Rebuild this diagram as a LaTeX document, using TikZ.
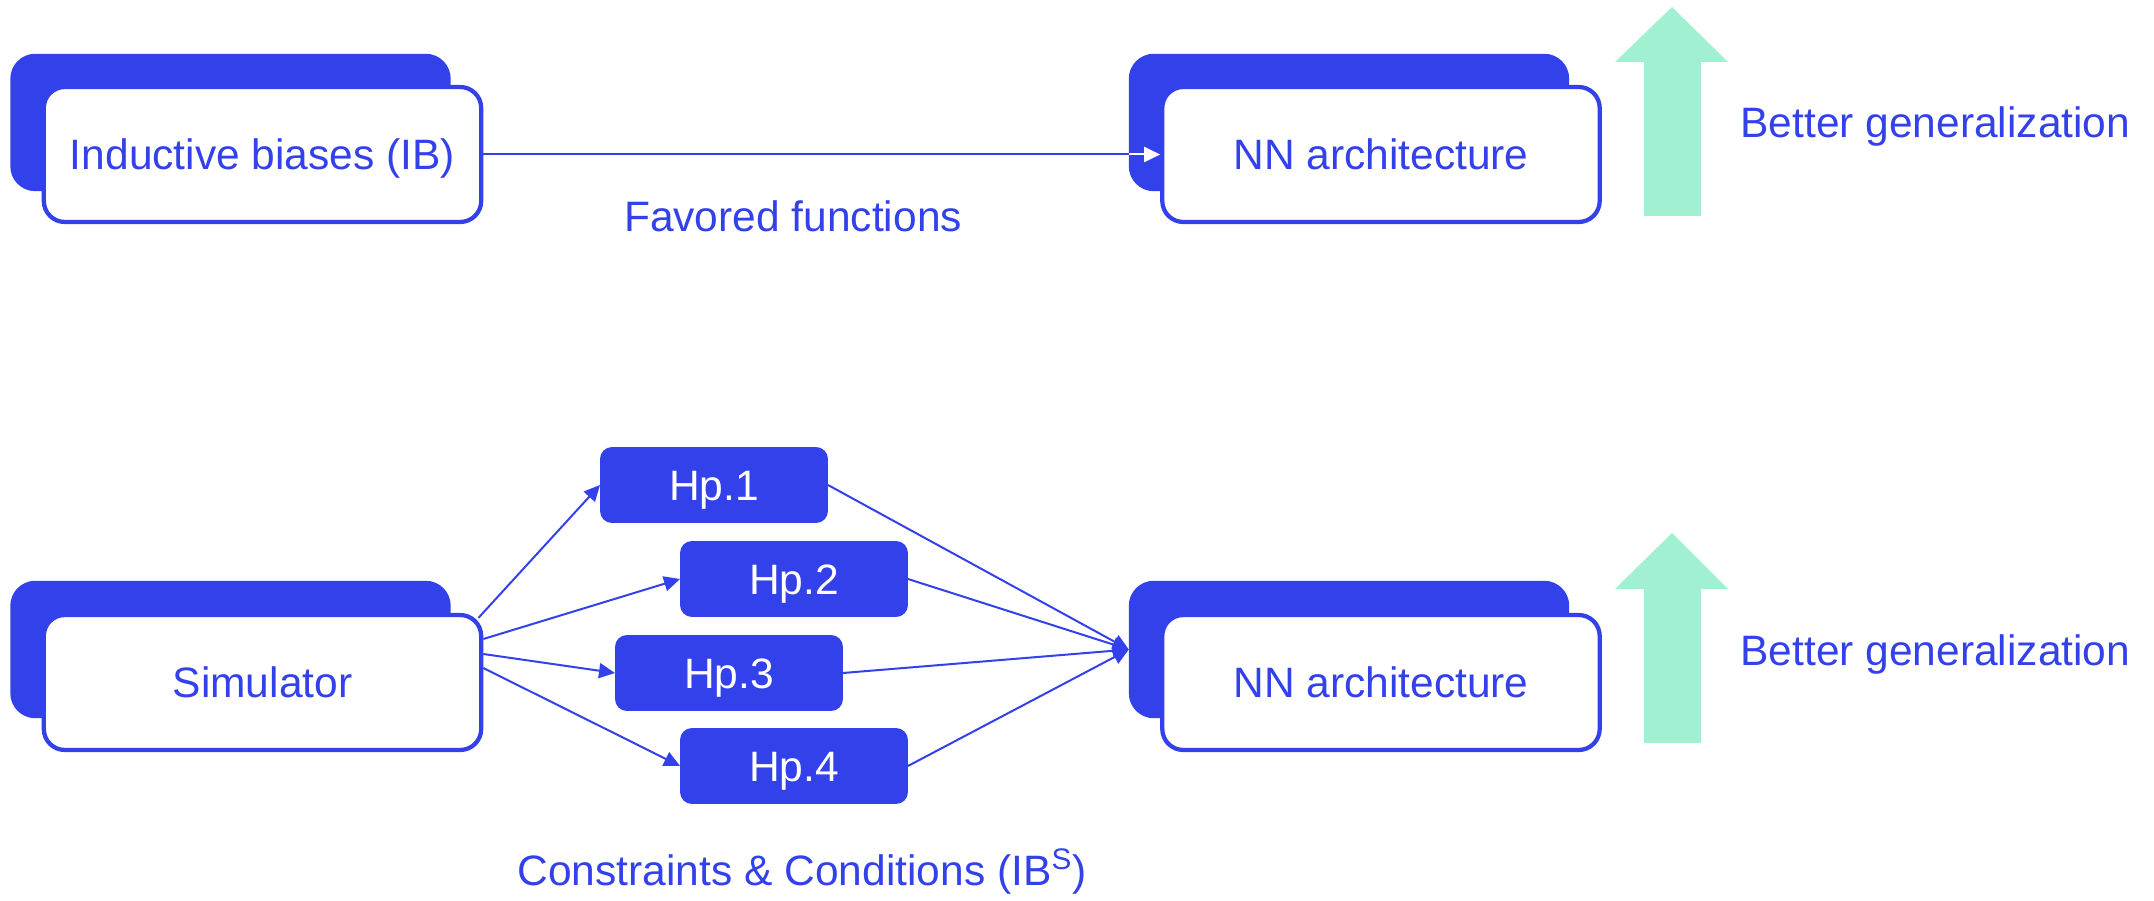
\documentclass[tikz,border=0pt]{standalone}
\usepackage{fontspec}
\setmainfont{Liberation Sans}
\usetikzlibrary{arrows.meta,calc}
\definecolor{myblue}{RGB}{51,65,234}
\definecolor{mygreen}{RGB}{162,240,210}
\begin{document}
\begin{tikzpicture}[x=0.02cm,y=-0.02cm,
  font=\fontsize{24.2}{29}\selectfont,
  backbox/.style={fill=myblue, rounded corners=0.5cm, minimum width=8.81cm, minimum height=2.75cm, inner sep=0pt, outer sep=0pt},
  frontbox/.style={draw=myblue, line width=0.085cm, fill=white, rounded corners=0.42cm, minimum width=8.75cm, minimum height=2.7cm, inner sep=0pt, text=myblue, text height=17.3pt, text depth=0pt},
  hpbox/.style={fill=myblue, rounded corners=0.24cm, minimum width=4.56cm, minimum height=1.52cm, inner sep=0pt, outer sep=0pt, text=white, text height=17.3pt, text depth=0pt},
  lbl/.style={text=myblue, inner sep=0pt, anchor=base},
  conn/.style={draw=myblue, line width=0.04cm, -{Triangle[length=0.32cm,width=0.3cm]}},
  plain/.style={draw=myblue, line width=0.04cm}
]
\useasboundingbox (0,0) rectangle (2154,901);

% top row
\node[backbox] (ibb) at (230.5,122.5) {};
\node[frontbox] (ib) at (262.5,154.5) {Inductive biases (IB)};
\node[backbox] (nnb1) at (1349,122.5) {};
\node[frontbox] (nn1) at (1381,154.5) {NN architecture};
\node[lbl] (fav) at (793,232) {Favored functions};
\fill[mygreen] (1672,7) -- (1728,62) -- (1701,62) -- (1701,216) -- (1644,216) -- (1644,62) -- (1615,62) -- cycle;
\node[lbl, anchor=base west] (bg1) at (1740,138) {Better generalization};

\coordinate (tj) at (ib.east -| nnb1.west);
\draw[plain] (ib.east) -- (tj);
\draw[draw=white, line width=0.04cm, -{Triangle[length=0.32cm,width=0.3cm]}] (tj) -- (nn1.west);

% bottom row
\node[backbox] (simb) at (230.5,649.5) {};
\node[frontbox] (sim) at (262.5,682.5) {Simulator};
\node[backbox] (nnb2) at (1349,649.5) {};
\node[frontbox] (nn2) at (1381,682.5) {NN architecture};
\fill[mygreen] (1672,533) -- (1728,589) -- (1701,589) -- (1701,743) -- (1644,743) -- (1644,589) -- (1615,589) -- cycle;
\node[lbl, anchor=base west] (bg2) at (1740,666) {Better generalization};

\node[hpbox] (hp1) at (714,485) {Hp.1};
\node[hpbox] (hp2) at (794,579) {Hp.2};
\node[hpbox] (hp3) at (729,673) {Hp.3};
\node[hpbox] (hp4) at (794,766) {Hp.4};

\coordinate (s1) at ([xshift=-0.1cm,yshift=1.29cm]sim.east);
\coordinate (s2) at ([yshift=0.87cm]sim.east);
\coordinate (s3) at ([yshift=0.57cm]sim.east);
\coordinate (s4) at ([yshift=0.29cm]sim.east);
\draw[conn] (s1) -- (hp1.west);
\draw[conn] (s2) -- (hp2.west);
\draw[conn] (s3) -- (hp3.west);
\draw[conn] (s4) -- (hp4.west);

\draw[conn] (hp1.east) -- (nnb2.west);
\draw[conn] (hp2.east) -- (nnb2.west);
\draw[conn] (hp3.east) -- (nnb2.west);
\draw[conn] (hp4.east) -- (nnb2.west);

\node[lbl] (cc) at (802,885) {Constraints \& Conditions (IB\textsuperscript{S})};
\end{tikzpicture}
\end{document}
